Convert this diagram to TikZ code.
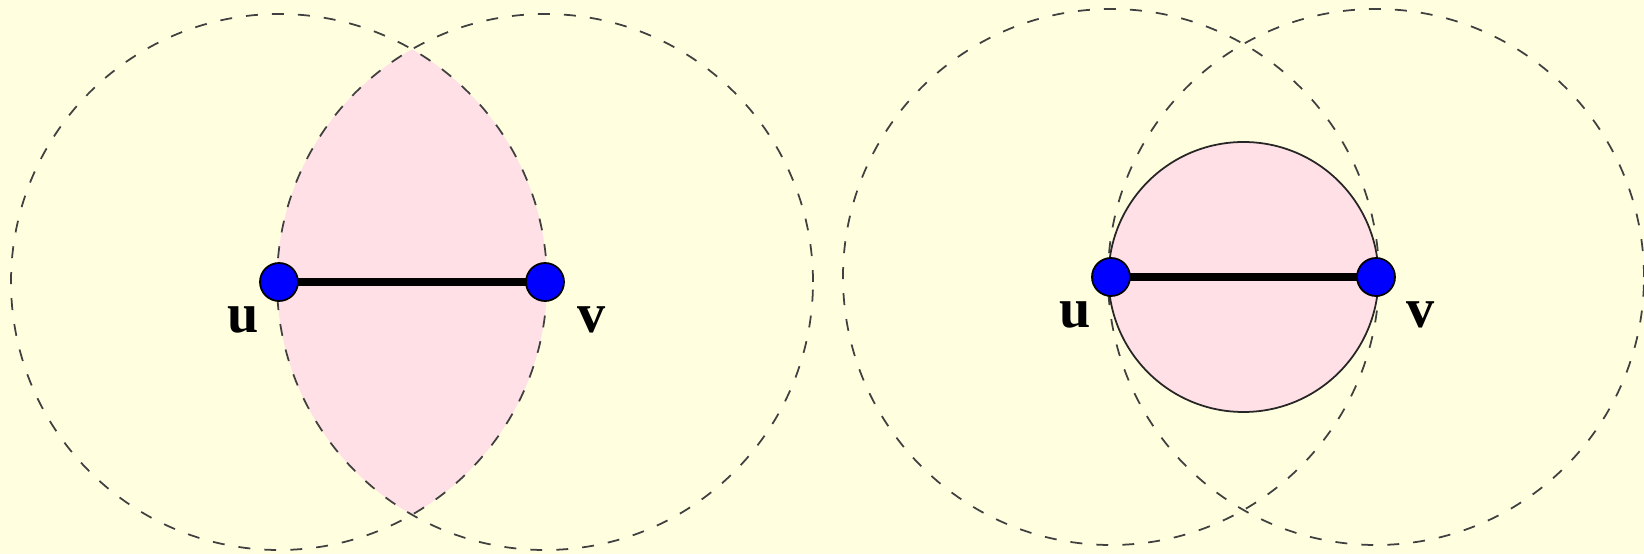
\documentclass[tikz,border=0pt]{standalone}
\usepackage{fontspec}
\setmainfont{Liberation Serif}
\usetikzlibrary{positioning,calc}
\definecolor{bgyellow}{RGB}{255,255,224}
\definecolor{lenspink}{RGB}{255,224,230}
\definecolor{ptblue}{RGB}{0,0,255}
\tikzset{
  vertex/.style={
    inner sep = 0pt,
    minimum size = 0.38cm,
    shape = circle,
    draw = black,
    line width = 0.5pt,
    fill = ptblue
  },
  ring/.style={
    draw = black!75,
    line width = 0.5pt,
    dash pattern = on 3.4pt off 4pt
  },
  edge/.style={
    line width = 2pt,
    line cap = butt
  },
  lbl/.style={
    font = \fontsize{16}{16}\selectfont\bfseries,
    inner sep = 0pt
  }
}
\begin{document}
\begin{tikzpicture}
    \useasboundingbox[fill=bgyellow] (0,0) rectangle (16.44,5.54);
    % left: the lens of both disks
    \coordinate (u) at (2.79,2.72);
    \coordinate (v) at (5.45,2.72);
    \begin{scope}
      \clip (u) circle (2.68);
      \fill[lenspink] (v) circle (2.68);
    \end{scope}
    \draw[ring] (u) circle (2.68);
    \draw[ring] (v) circle (2.68);
    % right: disk on uv as diameter
    \coordinate (u2) at (11.11,2.77);
    \coordinate (v2) at (13.76,2.77);
    \coordinate (m2) at ($(u2)!0.5!(v2)$);
    \draw[ring] (u2) circle (2.68);
    \draw[ring] (v2) circle (2.68);
    \filldraw[fill=lenspink, draw=black!85, line width=0.5pt] (m2) circle (1.35);
    \draw[edge] (u) -- (v);
    \draw[edge] (u2) -- (v2);
    \node[vertex] (nu) at (u) {};
    \node[vertex] (nv) at (v) {};
    \node[vertex] (nu2) at (u2) {};
    \node[vertex] (nv2) at (v2) {};
    \node[lbl] (lu) at (2.435,2.345) {u};
    \node[lbl] (lv) at (5.915,2.345) {v};
    \node[lbl] (lu2) at (10.75,2.39) {u};
    \node[lbl] (lv2) at (14.21,2.39) {v};
\end{tikzpicture}
\end{document}
